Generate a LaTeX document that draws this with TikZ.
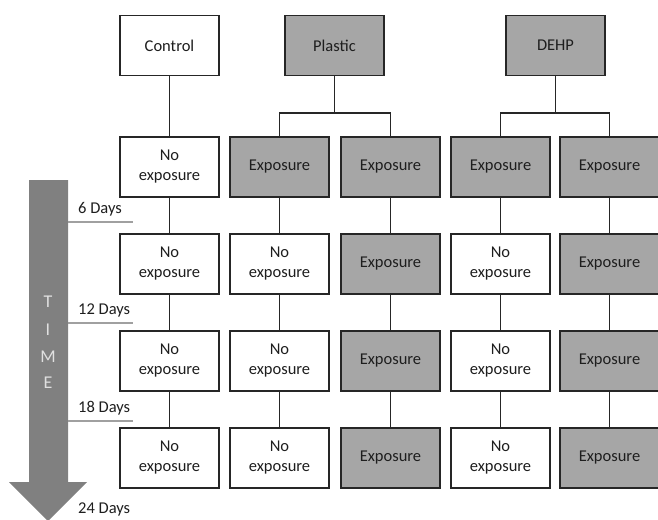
\documentclass[tikz,border=0pt]{standalone}
\usepackage{fontspec}
\setmainfont{Carlito}
\definecolor{boxgray}{HTML}{A6A6A6}
\definecolor{arrowgray}{HTML}{808080}
\definecolor{txt}{HTML}{1E1E1E}
\definecolor{daygray}{HTML}{A0A0A0}
\begin{document}
\begin{tikzpicture}[x=1pt,y=-1pt,
  box/.style={draw=black!85,line width=1.4pt,minimum width=99pt,minimum height=60pt,inner sep=0pt,
    align=center,text=txt,font=\fontsize{16.5}{20}\selectfont},
  wbox/.style={box,fill=white},
  gbox/.style={box,fill=boxgray},
  link/.style={draw=black!85,line width=1.2pt},
  dayline/.style={draw=daygray,line width=1.5pt},
  daylab/.style={anchor=south west,inner sep=0pt,text=txt,font=\fontsize{16.5}{18}\selectfont},
  timelab/.style={text=white!88!black,font=\fontsize{18}{20}\selectfont,inner sep=0pt}]
\useasboundingbox (0,0) rectangle (658,519);
% time arrow
\fill[arrowgray] (29,180) -- (68,180) -- (68,482) -- (87,482) -- (48,521) -- (9,482) -- (29,482) -- cycle;
\node[timelab] (tT) at (48,302) {T};
\node[timelab] (tI) at (48,330) {I};
\node[timelab] (tM) at (48,357) {M};
\node[timelab] (tE) at (48,383) {E};
% day marks
\coordinate (d6a) at (68,222); \coordinate (d6b) at (133,222);
\coordinate (d12a) at (68,323); \coordinate (d12b) at (133,323);
\coordinate (d18a) at (68,421); \coordinate (d18b) at (133,421);
\draw[dayline] (d6a) -- (d6b);
\draw[dayline] (d12a) -- (d12b);
\draw[dayline] (d18a) -- (d18b);
\node[daylab] (l6) at (78,216) {6 Days};
\node[daylab] (l12) at (78,317) {12 Days};
\node[daylab] (l18) at (78,415) {18 Days};
\node[daylab] (l24) at (78,516) {24 Days};
% top row
\node[wbox] (control) at (169.5,45.5) {Control};
\node[gbox] (plastic) at (334.5,45.5) {Plastic};
\node[gbox] (dehp) at (555.5,45.5) {DEHP};
% row 1
\node[wbox] (c1) at (169.5,167) {No\\exposure};
\node[gbox] (pa1) at (279.5,167) {Exposure};
\node[gbox] (pb1) at (390.5,167) {Exposure};
\node[gbox] (da1) at (500.5,167) {Exposure};
\node[gbox] (db1) at (609.5,167) {Exposure};
% row 2
\node[wbox] (c2) at (169.5,264) {No\\exposure};
\node[wbox] (pa2) at (279.5,264) {No\\exposure};
\node[gbox] (pb2) at (390.5,264) {Exposure};
\node[wbox] (da2) at (500.5,264) {No\\exposure};
\node[gbox] (db2) at (609.5,264) {Exposure};
% row 3
\node[wbox] (c3) at (169.5,361) {No\\exposure};
\node[wbox] (pa3) at (279.5,361) {No\\exposure};
\node[gbox] (pb3) at (390.5,361) {Exposure};
\node[wbox] (da3) at (500.5,361) {No\\exposure};
\node[gbox] (db3) at (609.5,361) {Exposure};
% row 4
\node[wbox] (c4) at (169.5,458) {No\\exposure};
\node[wbox] (pa4) at (279.5,458) {No\\exposure};
\node[gbox] (pb4) at (390.5,458) {Exposure};
\node[wbox] (da4) at (500.5,458) {No\\exposure};
\node[gbox] (db4) at (609.5,458) {Exposure};
% connectors
\draw[link] (control) -- (c1);
\coordinate (pj) at (334.5,113);
\coordinate (dj) at (555.5,113);
\draw[link] (plastic) -- (pj);
\draw[link] (pa1.north) |- (pj) -| (pb1.north);
\draw[link] (dehp) -- (dj);
\draw[link] (da1.north) |- (dj) -| (db1.north);
\foreach \c in {c,pa,pb,da,db}{
  \draw[link] (\c1) -- (\c2);
  \draw[link] (\c2) -- (\c3);
  \draw[link] (\c3) -- (\c4);
}
\end{tikzpicture}
\end{document}
